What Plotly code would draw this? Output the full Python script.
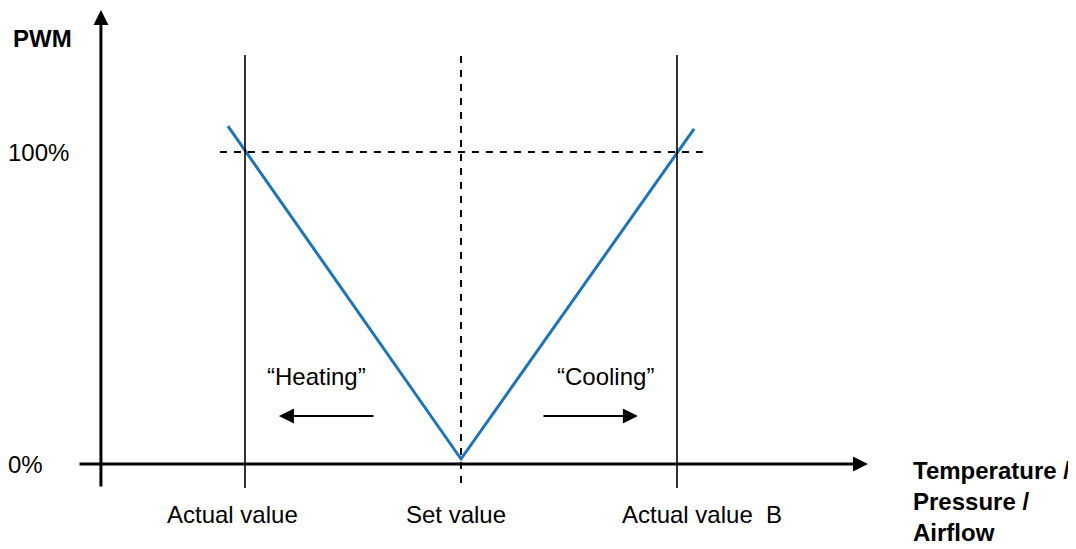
import plotly.graph_objects as go

# ---- data (normalised units: set value = 0, actual values = -1 / +1; PWM in %) ----
curve_x = [-1.079, 0.0, 1.079]
curve_y = [108.3, 1.6, 107.4]

marker_x = [-1.0, 1.0]            # actual value, actual value B
set_x = 0.0
pwm_ref = 100
ytick_vals = [100, 0]
ytick_text = ["100%", "0%"]
xlabel_pos = [-1.056, -0.021, 1.116]
xlabel_text = ["Actual value", "Set value", "Actual value\u00a0\u00a0B"]

FONT = "Liberation Sans, Arial, sans-serif"
BLUE = "#1B75BB"

# page body has an 8px margin; figure is sized to fill the rest of the window
OFF = 8
W, H = 1076 - OFF, 549 - OFF

fig = go.Figure()
fig.add_trace(go.Scatter(x=curve_x, y=curve_y, mode="lines",
                         line=dict(color=BLUE, width=3), hoverinfo="skip",
                         showlegend=False))

shapes = []
for mx in marker_x:
    shapes.append(dict(type="line", xref="x", yref="y", x0=mx, x1=mx,
                       y0=-7.7, y1=131.1, line=dict(color="black", width=1.6)))
shapes.append(dict(type="line", xref="x", yref="y", x0=set_x, x1=set_x,
                   y0=-6.1, y1=131.1, line=dict(color="black", width=2, dash="7px,7px")))
shapes.append(dict(type="line", xref="x", yref="y", x0=-1.116, x1=1.12,
                   y0=pwm_ref, y1=pwm_ref, line=dict(color="black", width=2, dash="7px,7px")))

ann = []
# axes with arrowheads
ann.append(dict(x=1.884, y=0, ax=-1.773, ay=0, xref="x", yref="y", axref="x", ayref="y",
                text="", showarrow=True, arrowhead=2, arrowsize=1, arrowwidth=3,
                arrowcolor="black", standoff=0))
ann.append(dict(x=-1.667, y=145.5, ax=-1.667, ay=-7.7, xref="x", yref="y", axref="x", ayref="y",
                text="", showarrow=True, arrowhead=2, arrowsize=1, arrowwidth=3,
                arrowcolor="black", standoff=0))
# heating / cooling arrows
ann.append(dict(x=-0.843, y=15.4, ax=-0.398, ay=15.4, xref="x", yref="y", axref="x", ayref="y",
                text="", showarrow=True, arrowhead=2, arrowsize=1.5, arrowwidth=2,
                arrowcolor="black", standoff=0))
ann.append(dict(x=0.819, y=15.4, ax=0.375, ay=15.4, xref="x", yref="y", axref="x", ayref="y",
                text="", showarrow=True, arrowhead=2, arrowsize=1.5, arrowwidth=2,
                arrowcolor="black", standoff=0))

tf = dict(family=FONT, size=24, color="black")
ann.append(dict(x=-0.671, y=28.2, xref="x", yref="y", text="\u201cHeating\u201d",
                showarrow=False, font=tf))
ann.append(dict(x=0.671, y=28.2, xref="x", yref="y", text="\u201cCooling\u201d",
                showarrow=False, font=tf))
for xv, t in zip(xlabel_pos, xlabel_text):
    ann.append(dict(x=xv, y=-16.3, xref="x", yref="y", text=t, showarrow=False, font=tf))
for yv, t in zip(ytick_vals, ytick_text):
    ann.append(dict(x=(6 - OFF) / W, y=yv, xref="paper", yref="y", text=t, showarrow=False,
                    xanchor="left", font=tf))
ann.append(dict(x=(11 - OFF) / W, y=136.5, xref="paper", yref="y", text="<b>PWM</b>",
                showarrow=False, xanchor="left", font=tf))
ann.append(dict(x=(911 - OFF) / W, y=-11.9, xref="paper", yref="y",
                text="<b>Temperature /<br>Pressure /<br>Airflow</b>", align="left",
                showarrow=False, xanchor="left", font=tf))

fig.update_layout(
    width=W, height=H, margin=dict(l=0, r=0, t=0, b=0),
    paper_bgcolor="white", plot_bgcolor="white",
    xaxis=dict(range=[(OFF - 461) / 216, (1076 - 461) / 216], visible=False, fixedrange=True),
    yaxis=dict(range=[(464 - 549) / 3.12, (464 - OFF) / 3.12], visible=False, fixedrange=True),
    shapes=shapes, annotations=ann, showlegend=False,
)
fig.write_html("out.html")
